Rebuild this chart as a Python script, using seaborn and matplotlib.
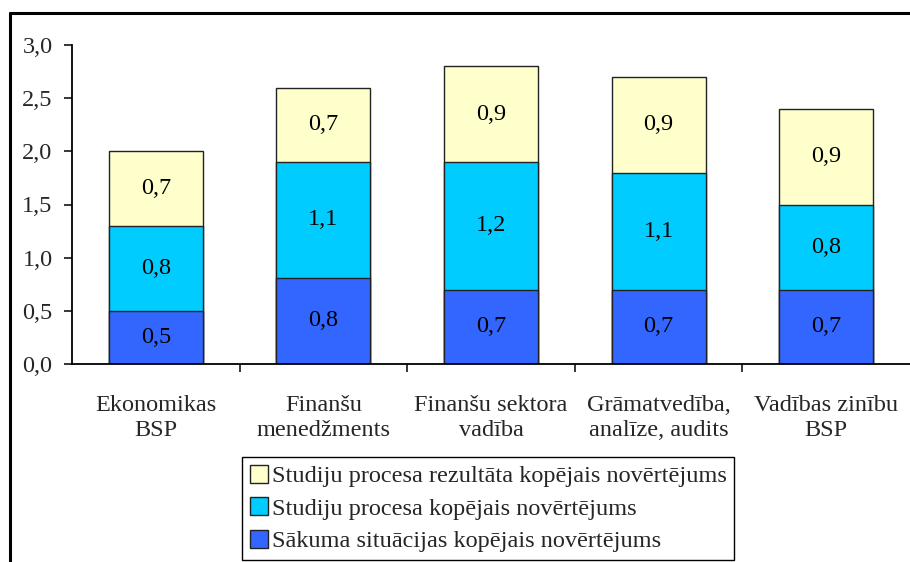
import matplotlib
matplotlib.use("Agg")
import matplotlib.pyplot as plt
import seaborn as sns
import pandas as pd
import numpy as np
from matplotlib.lines import Line2D
from matplotlib.patches import Patch
from matplotlib.ticker import FuncFormatter, FixedLocator

categories = ["Ekonomikas\nBSP", "Finanšu\nmenedžments", "Finanšu sektora\nvadība",
              "Grāmatvedība,\nanalīze, audits", "Vadības zinību\nBSP"]
sakuma = [0.5, 0.81, 0.7, 0.7, 0.7]
procesa = [0.8, 1.09, 1.2, 1.1, 0.8]
rezultata = [0.7, 0.7, 0.9, 0.9, 0.9]
series_names = ["Studiju procesa rezultāta kopējais novērtējums",
                "Studiju procesa kopējais novērtējums",
                "Sākuma situācijas kopējais novērtējums"]
colors = ["#FFFFCC", "#00CCFF", "#3366FF"]

FS = 17.5
sns.set_style("white")
plt.rcParams["font.family"] = ["Liberation Serif", "DejaVu Serif"]
plt.rcParams["font.size"] = FS

s1 = np.array(sakuma)
s2 = s1 + np.array(procesa)
s3 = s2 + np.array(rezultata)

fig = plt.figure(figsize=(9.1, 5.62), dpi=100)
ax = fig.add_axes([72/910, 1-364/562, (910-72)/910, (364-45)/562])

for cum, col in zip([s3, s2, s1], colors):
    df = pd.DataFrame({"cat": categories, "val": cum})
    sns.barplot(data=df, x="cat", y="val", color=col, saturation=1, width=0.56,
                edgecolor="#222222", linewidth=1.0, ax=ax, errorbar=None)

bottoms = [np.zeros(5), s1, s2]
heights = [sakuma, procesa, rezultata]
for b, h in zip(bottoms, heights):
    for i in range(5):
        ax.text(i, b[i] + h[i]/2, f"{h[i]:.1f}".replace(".", ","),
                ha="center", va="center", fontsize=FS, color="black")

ax.set_xlim(-0.5, 4.5)
ax.set_ylim(0, 3.0)
ax.set_yticks(np.arange(0, 3.01, 0.5))
ax.yaxis.set_major_formatter(FuncFormatter(lambda v, p: f"{v:.1f}".replace(".", ",")))
ax.set_xlabel("")
ax.set_ylabel("")
for s in ["top", "right"]:
    ax.spines[s].set_visible(False)
for s in ["left", "bottom"]:
    ax.spines[s].set_color("black")
    ax.spines[s].set_linewidth(1.3)

ax.tick_params(axis="y", which="major", direction="out", length=6, width=1.3,
               pad=8, left=True, labelsize=FS)
ax.tick_params(axis="x", which="major", length=0, pad=22, labelsize=FS)
ax.xaxis.set_minor_locator(FixedLocator([0.5, 1.5, 2.5, 3.5]))
ax.tick_params(axis="x", which="minor", direction="out", length=6, width=1.3, bottom=True)
for lab in ax.get_xticklabels():
    lab.set_linespacing(1.25)

handles = [Patch(facecolor=c, edgecolor="#222222", linewidth=1.0) for c in colors]
leg = fig.legend(handles, series_names, loc="upper left",
                 bbox_to_anchor=(242/910, 1-457/562), fontsize=FS,
                 frameon=True, fancybox=False, shadow=False, framealpha=1,
                 edgecolor="black", handlelength=0.75, handleheight=0.75,
                 handletextpad=0.15, labelspacing=0.42, borderpad=0.32,
                 borderaxespad=0)
leg.get_frame().set_linewidth(1.0)

# outer frame (top and left borders visible)
fig.add_artist(Line2D([10/910, 1.0], [1-13/562, 1-13/562], transform=fig.transFigure,
                      color="black", linewidth=2.2))
fig.add_artist(Line2D([10/910, 10/910], [0, 1-13/562], transform=fig.transFigure,
                      color="black", linewidth=2.2))

fig.savefig("out.png", dpi=100)
